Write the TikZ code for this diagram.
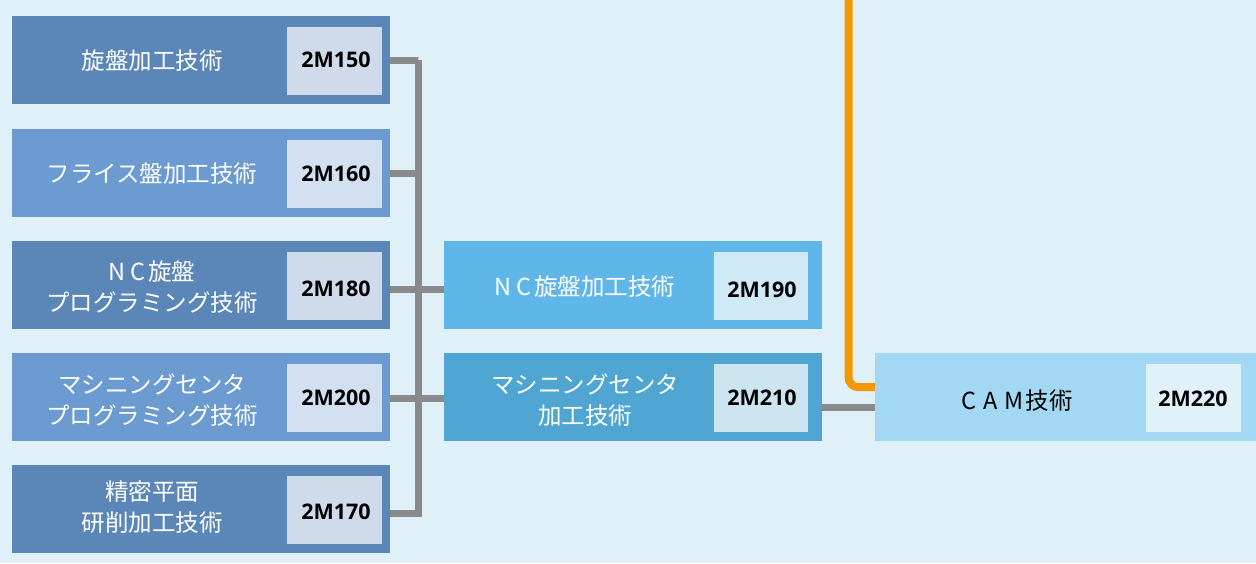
\documentclass[tikz,border=0pt]{standalone}
\usepackage{fontspec}
\setmainfont{Noto Sans CJK JP}
\newfontfamily\codefont{Open Sans}
\definecolor{bg}{HTML}{DFF0F9}
\definecolor{dkblue}{HTML}{5B87B8}
\definecolor{ltblue}{HTML}{6B9BD0}
\definecolor{codeA}{HTML}{CFDBEA}
\definecolor{codeB}{HTML}{D2E0F1}
\definecolor{ncblue}{HTML}{5FB6E8}
\definecolor{nccode}{HTML}{CFE9F7}
\definecolor{mcblue}{HTML}{50A6D3}
\definecolor{mccode}{HTML}{CDE4F1}
\definecolor{camblue}{HTML}{A2D8F3}
\definecolor{camcode}{HTML}{E0F1FA}
\definecolor{linegray}{HTML}{8A8A8A}
\definecolor{lineorange}{HTML}{F39800}
\tikzset{
  box/.style={rectangle, inner sep=0pt, anchor=north west, minimum width=378pt, minimum height=88pt},
  codebox/.style={rectangle, inner sep=0pt, anchor=north west, minimum width=95pt, minimum height=68pt},
  lbl/.style={text=white, align=center, inner sep=0pt, font=\fontsize{23.5}{31}\selectfont},
  code/.style={text=black, inner sep=0pt, font=\codefont\fontsize{21.5}{24}\selectfont\bfseries},
  conn/.style={draw=linegray, line width=7pt},
  oconn/.style={draw=lineorange, line width=8pt, rounded corners=10pt}
}
\begin{document}
\begin{tikzpicture}[x=1pt,y=-1pt]
\useasboundingbox (0,0) rectangle (1256,563);
\fill[bg] (0,0) rectangle (1256,563);
\coordinate (tTop) at (418,60);
\coordinate (tBot) at (418,513);
\coordinate (oTop) at (848.5,-5);
% left column boxes
\node[box, fill=dkblue] (b1) at (12,16) {};
\node[box, fill=ltblue] (b2) at (12,129) {};
\node[box, fill=dkblue] (b3) at (12,241) {};
\node[box, fill=ltblue] (b4) at (12,353) {};
\node[box, fill=dkblue] (b5) at (12,465) {};
\node[codebox, fill=codeA] (k1) at (287,27) {};
\node[codebox, fill=codeB] (k2) at (287,140) {};
\node[codebox, fill=codeA] (k3) at (287,252) {};
\node[codebox, fill=codeB] (k4) at (287,364) {};
\node[codebox, fill=codeA] (k5) at (287,476) {};
\node[lbl] (l1) at (152,61) {旋盤加工技術};
\node[lbl] (l2) at (152,174) {フライス盤加工技術};
\node[lbl] (l3) at (152,287) {N\kern5pt C\kern3pt 旋盤\\プログラミング技術};
\node[lbl] (l4) at (152,400) {マシニングセンタ\\プログラミング技術};
\node[lbl] (l5) at (152,507) {精密平面\\研削加工技術};
\node[code] (c1) at (336,60) {2M150};
\node[code] (c2) at (336,174) {2M160};
\node[code] (c3) at (336,289) {2M180};
\node[code] (c4) at (336,398) {2M200};
\node[code] (c5) at (336,512) {2M170};
% middle boxes
\node[box, fill=ncblue] (nc) at (444,241) {};
\node[box, fill=mcblue] (mc) at (444,353) {};
\node[codebox, fill=nccode, minimum width=94pt] (knc) at (714,252) {};
\node[codebox, fill=mccode, minimum width=94pt] (kmc) at (714,364) {};
\node[lbl] (lnc) at (585,287) {N\kern5pt C\kern3pt 旋盤加工技術};
\node[lbl] (lmc) at (585,400) {マシニングセンタ\\加工技術};
\node[code] (cnc) at (762,290) {2M190};
\node[code] (cmc) at (762,398) {2M210};
% CAM box
\node[box, fill=camblue, minimum width=381pt] (cam) at (875,353) {};
\node[codebox, fill=camcode] (kcam) at (1146,364) {};
\node[lbl, text=black] (lcam) at (1017,401) {C\kern7pt A\kern7pt M\kern2pt 技術};
\node[code] (ccam) at (1193,399) {2M220};
% connectors
\draw[conn] (b1.east) -| (tTop) -- (tBot) -- (tBot -| b5.east);
\draw[conn] ([yshift=-0.5pt]b2.east) -- ([yshift=-0.5pt]b2.east -| tTop);
\draw[conn] ([yshift=-4pt]b3.east) -- ([yshift=-4pt]nc.west);
\draw[conn] ([yshift=-1pt]b4.east) -- ([yshift=-1pt]mc.west);
\draw[conn] ([yshift=-10pt]mc.east) -- ([yshift=-10pt]cam.west);
\draw[oconn] (oTop) |- ([yshift=10pt]cam.west);
\end{tikzpicture}
\end{document}
